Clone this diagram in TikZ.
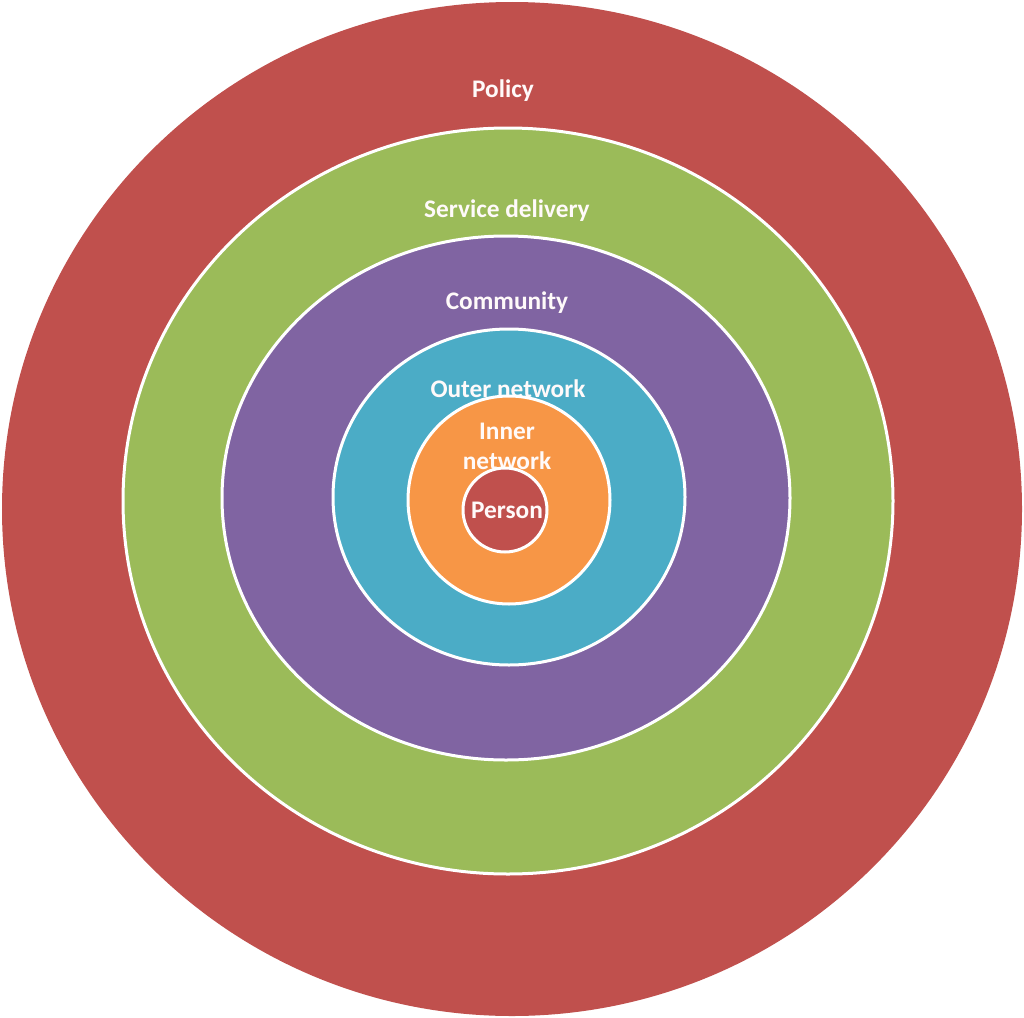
\documentclass[tikz,border=0pt]{standalone}
\usepackage{fontspec}
\setmainfont{Carlito}
\definecolor{policyred}{HTML}{C0504D}
\definecolor{servicegreen}{HTML}{9BBB59}
\definecolor{communitypurple}{HTML}{8064A2}
\definecolor{outerteal}{HTML}{4BACC6}
\definecolor{innerorange}{HTML}{F79646}
\tikzset{
	ring/.style={draw=white, line width=0.03cm},
	lbl/.style={text=white!92!pink, font=\bfseries\fontsize{7.2}{8.5}\selectfont, inner sep=0pt, align=center}
}
\begin{document}
\begin{tikzpicture}[x=0.01cm, y=-0.01cm]
		\useasboundingbox (0,0) rectangle (1024,1018);
		\fill[policyred] (512,509) ellipse [x radius=510, y radius=507];
		\node[lbl] (policy) at (503,91) {Policy};
		\filldraw[ring, fill=servicegreen] (508,501) ellipse [x radius=385, y radius=373];
		\node[lbl] (service) at (507,211) {Service delivery};
		\filldraw[ring, fill=communitypurple] (506,498) ellipse [x radius=284, y radius=262];
		\node[lbl] (community) at (507,303) {Community};
		\filldraw[ring, fill=outerteal] (509,497) ellipse [x radius=176, y radius=168];
		\node[lbl] (outer) at (508,389) {Outer network};
		\filldraw[ring, fill=innerorange] (509,500) ellipse [x radius=101, y radius=104];
		\node[lbl] (inner) at (507,446) {Inner\\network};
		\filldraw[ring, fill=policyred] (505,510) ellipse [x radius=42, y radius=42];
		\node[lbl] (person) at (507,510) {Person};
		\end{tikzpicture}
\end{document}
